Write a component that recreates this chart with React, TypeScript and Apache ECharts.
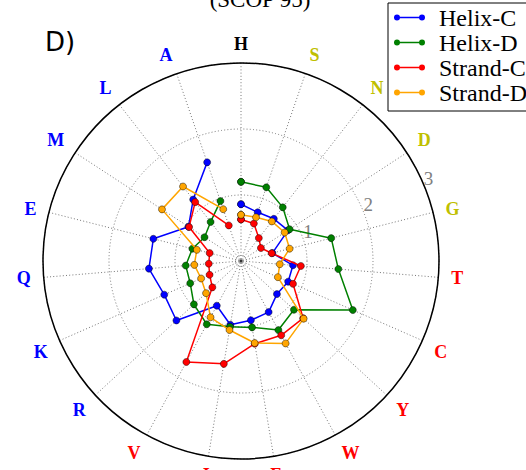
import React, { useEffect, useRef } from 'react';
import * as echarts from 'echarts';

// Amino-acid categories, clockwise from the top
const categories = ['H', 'S', 'N', 'D', 'G', 'T', 'C', 'Y', 'W', 'F', 'I', 'V', 'R', 'K', 'Q', 'E', 'M', 'L', 'A'];
const categoryColors = [
  '#000000',
  '#bfbf00', '#bfbf00', '#bfbf00', '#bfbf00',
  '#ff0000', '#ff0000', '#ff0000', '#ff0000', '#ff0000', '#ff0000', '#ff0000',
  '#0000ff', '#0000ff', '#0000ff', '#0000ff', '#0000ff', '#0000ff', '#0000ff',
];

const seriesNames = ['Helix-C', 'Helix-D', 'Strand-C', 'Strand-D'];
const seriesColors = ['#0000ff', '#008000', '#ff0000', '#ffa500'];

const helixC = [0.86, 0.78, 0.81, 0.85, 0.49, 0.79, 0.78, 0.74, 0.88, 0.91, 0.98, 0.77, 1.33, 1.27, 1.40, 1.37, 0.95, 1.18, 1.58];
const helixD = [1.20, 1.18, 1.03, 0.88, 1.41, 1.48, 1.85, 1.09, 1.19, 1.02, 1.01, 1.09, 0.97, 0.84, 0.84, 0.76, 0.66, 0.75, 0.96];
const strandC = [0.63, 0.60, 0.44, 0.36, 0.48, 0.91, 0.86, 1.28, 1.28, 1.27, 1.58, 1.74, 0.59, 0.52, 0.49, 0.49, 0.94, 1.13, 0.57];
const strandD = [0.70, 0.70, 0.76, 0.79, 0.76, 0.59, 0.61, 1.29, 1.42, 1.26, 1.06, 0.97, 0.72, 0.66, 0.71, 0.69, 1.43, 1.43, 0.83];

const radiusMin = 0;
const radiusMax = 3;
const radiusInterval = 1;

const titleText = '(SCOP 95)';
const panelText = 'D)';

const allSeries = [helixC, helixD, strandC, strandD];

const legendIcon =
  'path://M0,4 A3,3 0 1 1 6,4 A3,3 0 1 1 0,4 Z M25,4 A3,3 0 1 1 31,4 A3,3 0 1 1 25,4 Z M3,3.35 L28,3.35 L28,4.65 L3,4.65 Z M40,3.95 L40,4.05 L39.95,4 Z';

export default function App() {
  const ref = useRef<HTMLDivElement>(null);

  useEffect(() => {
    if (!ref.current) return;
    const chart = echarts.init(ref.current, undefined, { renderer: 'svg' });

    const center = [241, 261];
    const radius = 198;
    const dotted = [1, 2.2];

    const lineSeries = allSeries.map((vals, si) => ({
      name: seriesNames[si],
      type: 'line',
      coordinateSystem: 'polar',
      polarIndex: 0,
      data: [...vals.map((v, i) => [v, i]), [vals[0], 0]],
      symbol: 'circle',
      symbolSize: 7,
      showSymbol: true,
      lineStyle: { color: seriesColors[si], width: 1.5 },
      itemStyle: { color: seriesColors[si], borderColor: 'rgba(0,0,0,0.75)', borderWidth: 0.6 },
      z: 3 + si,
      silent: true,
    }));

    const option: any = {
      animation: false,
      backgroundColor: '#ffffff',
      polar: [
        { center, radius },
        { center, radius },
      ],
      angleAxis: [
        {
          polarIndex: 0,
          type: 'category',
          data: categories.map((c, i) => ({ value: c, textStyle: { color: categoryColors[i] } })),
          boundaryGap: false,
          startAngle: 90,
          clockwise: true,
          axisLine: { show: false },
          axisTick: { show: false },
          splitLine: { show: true, lineStyle: { color: '#777', width: 1, type: dotted } },
          axisLabel: {
            show: true,
            margin: 13,
            fontSize: 18,
            lineHeight: 12,
            fontWeight: 'bold',
            fontFamily: 'Liberation Serif',
          },
        },
        {
          polarIndex: 1,
          type: 'value',
          min: 0,
          max: 360,
          startAngle: 24,
          clockwise: false,
          z: 5,
          axisLine: { show: true, lineStyle: { color: '#000', width: 1.5 } },
          axisTick: { show: false },
          axisLabel: { show: false },
          splitLine: { show: false },
        },
      ],
      radiusAxis: [
        {
          polarIndex: 0,
          type: 'value',
          min: radiusMin,
          max: radiusMax,
          interval: radiusInterval,
          axisLine: { show: false },
          axisTick: { show: false },
          axisLabel: { show: false },
          splitLine: { show: false },
        },
        {
          polarIndex: 1,
          type: 'value',
          min: radiusMin,
          max: radiusMax,
          interval: radiusInterval,
          z: 1,
          axisLine: { show: false },
          axisTick: { show: false },
          splitLine: { show: true, lineStyle: { color: '#777', width: 1, type: dotted } },
          axisLabel: {
            show: true,
            margin: 2.6,
            align: 'left',
            verticalAlign: 'middle',
            padding: [0, 0, 0, 3],
            color: '#808080',
            fontSize: 19,
            fontFamily: 'Liberation Serif',
            formatter: (v: number) => (v === 0 ? '' : String(v)),
          },
        },
      ],
      legend: {
        data: seriesNames,
        orient: 'vertical',
        left: 388,
        top: 3,
        padding: [2, 10, 6, 6],
        itemGap: 0,
        itemWidth: 40,
        itemHeight: 6,
        icon: legendIcon,
        selectedMode: false,
        backgroundColor: '#fff',
        borderColor: '#000',
        borderWidth: 1,
        borderRadius: 0,
        itemStyle: { borderWidth: 0 },
        textStyle: { fontSize: 24, lineHeight: 25, color: '#000', fontFamily: 'Liberation Serif' },
      },
      graphic: [
        {
          type: 'text',
          x: 260,
          y: -1,
          style: {
            text: titleText,
            align: 'center',
            verticalAlign: 'middle',
            font: '23px "Liberation Serif"',
            fill: '#000',
          },
        },
        {
          type: 'text',
          x: 45,
          y: 42,
          style: {
            text: panelText,
            align: 'left',
            verticalAlign: 'middle',
            font: '26px "DejaVu Sans"',
            fill: '#000',
          },
        },
      ],
      series: [
        {
          type: 'scatter',
          coordinateSystem: 'polar',
          polarIndex: 0,
          data: [[0, 0]],
          symbol: 'circle',
          symbolSize: 11,
          silent: true,
          itemStyle: { color: 'rgba(0,0,0,0)', borderColor: '#777', borderWidth: 1, borderType: [1, 1.5] },
          z: 2,
        },
        {
          type: 'scatter',
          coordinateSystem: 'polar',
          polarIndex: 0,
          data: [[0, 0]],
          symbol: 'circle',
          symbolSize: 3,
          silent: true,
          itemStyle: { color: '#000' },
          z: 2,
        },
        ...lineSeries,
      ],
    };

    chart.setOption(option);
    return () => chart.dispose();
  }, []);

  return (
    <div
      ref={ref}
      style={{ position: 'absolute', left: 0, top: 0, width: 526, height: 470 }}
    />
  );
}
